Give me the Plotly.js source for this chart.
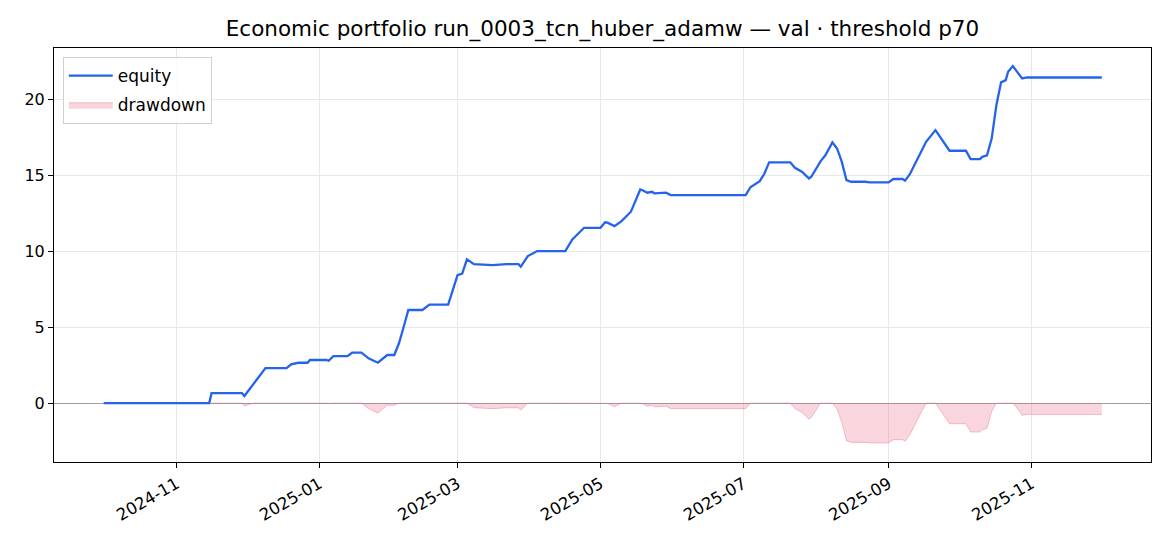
<!DOCTYPE html>
<html>
<head>
<meta charset="utf-8">
<script src="https://cdn.plot.ly/plotly-3.0.1.min.js"></script>
<style>
  html, body { margin: 0; padding: 0; background: #fff; }
  #chart { width: 1170px; height: 546px; }
</style>
</head>
<body>
<div id="chart"></div>
<script>
const dates = [
  '2024-10-01', '2024-11-15', '2024-11-16', '2024-11-29', '2024-11-30', '2024-12-04',
  '2024-12-09', '2024-12-18', '2024-12-20', '2024-12-23', '2024-12-27', '2024-12-28',
  '2025-01-04', '2025-01-05', '2025-01-07', '2025-01-13', '2025-01-15', '2025-01-19',
  '2025-01-22', '2025-01-26', '2025-01-30', '2025-02-02', '2025-02-04', '2025-02-06',
  '2025-02-08', '2025-02-14', '2025-02-17', '2025-02-25', '2025-03-01', '2025-03-03',
  '2025-03-05', '2025-03-08', '2025-03-16', '2025-03-22', '2025-03-27', '2025-03-28',
  '2025-03-31', '2025-04-04', '2025-04-16', '2025-04-19', '2025-04-24', '2025-05-01',
  '2025-05-03', '2025-05-04', '2025-05-07', '2025-05-10', '2025-05-12', '2025-05-14',
  '2025-05-18', '2025-05-19', '2025-05-21', '2025-05-23', '2025-05-24', '2025-05-29',
  '2025-05-31', '2025-07-02', '2025-07-04', '2025-07-08', '2025-07-10', '2025-07-12',
  '2025-07-21', '2025-07-23', '2025-07-26', '2025-07-29', '2025-07-30', '2025-08-03',
  '2025-08-05', '2025-08-08', '2025-08-10', '2025-08-12', '2025-08-14', '2025-08-16',
  '2025-08-22', '2025-08-24', '2025-09-01', '2025-09-03', '2025-09-07', '2025-09-08',
  '2025-09-10', '2025-09-15', '2025-09-17', '2025-09-21', '2025-09-24', '2025-09-27',
  '2025-10-04', '2025-10-06', '2025-10-10', '2025-10-11', '2025-10-13', '2025-10-15',
  '2025-10-17', '2025-10-19', '2025-10-21', '2025-10-22', '2025-10-24', '2025-10-26',
  '2025-10-28', '2025-10-30', '2025-12-01'
]

const equity = [
  0, 0, 0.65, 0.65, 0.46, 1.25,
  2.30, 2.30, 2.55, 2.65, 2.65, 2.83,
  2.83, 2.78, 3.09, 3.09, 3.31, 3.31,
  2.94, 2.65, 3.16, 3.16, 3.93, 5.00,
  6.12, 6.12, 6.47, 6.47, 8.42, 8.52,
  9.45, 9.14, 9.08, 9.14, 9.14, 8.97,
  9.67, 10.00, 10.00, 10.77, 11.53, 11.53,
  11.89, 11.87, 11.64, 11.97, 12.26, 12.59,
  14.05, 14.00, 13.84, 13.90, 13.80, 13.84,
  13.68, 13.68, 14.20, 14.60, 15.10, 15.84,
  15.84, 15.48, 15.22, 14.78, 14.89, 15.92,
  16.30, 17.15, 16.75, 15.88, 14.67, 14.56,
  14.56, 14.52, 14.52, 14.74, 14.74, 14.63,
  15.04, 16.53, 17.19, 17.96, 17.30, 16.60,
  16.60, 16.05, 16.05, 16.20, 16.30, 17.40,
  19.60, 21.10, 21.25, 21.80, 22.17, 21.80,
  21.36, 21.42, 21.42
]

const drawdown = [
  0, 0, 0, 0, -0.19, 0,
  0, 0, 0, 0, 0, 0,
  0, -0.05, 0, 0, 0, 0,
  -0.37, -0.66, -0.15, -0.15, 0, 0,
  0, 0, 0, 0, 0, 0,
  0, -0.31, -0.37, -0.31, -0.31, -0.48,
  0, 0, 0, 0, 0, 0,
  0, -0.02, -0.25, 0, 0, 0,
  0, -0.05, -0.21, -0.15, -0.25, -0.21,
  -0.37, -0.37, 0, 0, 0, 0,
  0, -0.36, -0.62, -1.06, -0.95, 0,
  0, 0, -0.40, -1.27, -2.48, -2.59,
  -2.59, -2.63, -2.63, -2.41, -2.41, -2.52,
  -2.11, -0.62, 0, 0, -0.66, -1.36,
  -1.36, -1.91, -1.91, -1.76, -1.66, -0.56,
  0, 0, 0, 0, 0, -0.37,
  -0.81, -0.75, -0.75
]

const yTicks = [0, 5, 10, 15, 20]
const xTicks = ['2024-11-01', '2025-01-01', '2025-03-01', '2025-05-01', '2025-07-01', '2025-09-01', '2025-11-01']
const xTickLabels = ['2024-11', '2025-01', '2025-03', '2025-05', '2025-07', '2025-09', '2025-11']

const font = 'DejaVu Sans, sans-serif'

const traces = [
  {
    x: dates,
    y: drawdown,
    name: 'drawdown',
    type: 'scatter',
    mode: 'lines',
    fill: 'tozeroy',
    fillcolor: 'rgba(232, 90, 120, 0.25)',
    line: { color: 'rgba(232, 90, 120, 0.35)', width: 1 },
    legendgroup: 'dd',
    legendrank: 2
  },
  {
    x: dates,
    y: equity,
    name: 'equity',
    type: 'scatter',
    mode: 'lines',
    line: { color: '#2563eb', width: 2.3 },
    legendgroup: 'eq',
    legendrank: 1
  }
]

const layout = {
  width: 1170,
  height: 546,
  margin: { l: 54, r: 19, t: 48, b: 84 },
  paper_bgcolor: '#fff',
  plot_bgcolor: '#fff',
  font: { family: font, size: 16, color: '#000' },
  title: {
    text: 'Economic portfolio run_0003_tcn_huber_adamw — val · threshold p70',
    font: { family: font, size: 21.5, color: '#000' },
    x: 0.5,
    xref: 'paper',
    y: 0.947,
    yanchor: 'middle'
  },
  showlegend: true,
  legend: {
    x: 0.008,
    y: 0.978,
    xanchor: 'left',
    yanchor: 'top',
    bgcolor: 'rgba(255,255,255,0.8)',
    bordercolor: '#d0d0d0',
    borderwidth: 1,
    font: { family: font, size: 17 },
    tracegroupgap: 4,
    itemwidth: 44
  },
  xaxis: {
    type: 'date',
    range: ['2024-09-09 18:00', '2025-12-22 00:00'],
    tickmode: 'array',
    tickvals: xTicks,
    ticktext: xTickLabels,
    tickangle: -30,
    ticks: 'outside',
    ticklen: 5,
    tickcolor: '#000',
    showgrid: true,
    gridcolor: '#e8e8e8',
    gridwidth: 1,
    showline: true,
    linecolor: '#000',
    linewidth: 1,
    mirror: true,
    zeroline: false,
    automargin: false,
    tickfont: { family: font, size: 16.5 }
  },
  yaxis: {
    range: [-3.88, 23.36],
    tickmode: 'array',
    tickvals: yTicks,
    ticks: 'outside',
    ticklen: 5,
    tickcolor: '#000',
    showgrid: true,
    gridcolor: '#e8e8e8',
    gridwidth: 1,
    showline: true,
    linecolor: '#000',
    linewidth: 1,
    mirror: true,
    zeroline: true,
    zerolinecolor: '#a0a0a0',
    zerolinewidth: 1,
    automargin: false,
    tickfont: { family: font, size: 16 }
  }
}

Plotly.newPlot('chart', traces, layout, { staticPlot: true, displayModeBar: false })
</script>
</body>
</html>
